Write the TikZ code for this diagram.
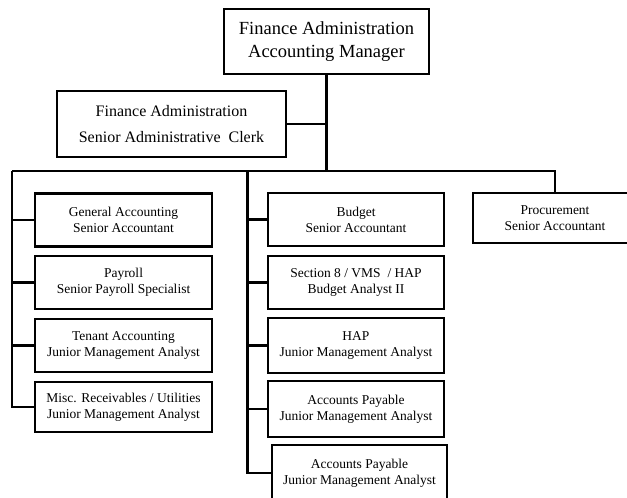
\documentclass[tikz,border=0pt]{standalone}
\usepackage{fontspec}
\setmainfont{Liberation Serif}
\usepackage{tikz}

\begin{document}
\begin{tikzpicture}[x=1pt,y=-1pt]
  \tikzset{post/.style = {shape=rectangle,draw,line width=2.2pt,align=center,inner sep=1pt,
      minimum width=176pt,minimum height=53pt,font=\fontsize{13.5}{16}\selectfont}}
  \tikzset{link/.style = {line width=2.2pt}}
  \useasboundingbox (0,0) rectangle (627,498);

	\node[post,minimum width=205pt,minimum height=65pt,font=\fontsize{18.5}{23}\selectfont]
	  (mgr) at (326.5,41.5) {Finance Administration\\Accounting Manager};
	\node[post,minimum width=229pt,minimum height=66pt,font=\fontsize{16}{26}\selectfont]
	  (clerk) at (171.5,124) {Finance Administration\\Senior Administrative\ \ Clerk};

	\node[post,minimum width=177pt](ga) at (123.5,220) {General Accounting\\Senior Accountant};
	\node[post,minimum width=177pt](pay) at (123.5,282.5) {Payroll\\Senior Payroll Specialist};
	\node[post,minimum width=177pt](ten) at (123.5,345.5) {Tenant Accounting\\Junior Management Analyst};
	\node[post,minimum width=177pt,minimum height=50pt](misc) at (123.5,407) {Misc. Receivables / Utilities\\Junior Management Analyst};

	\node[post](bud) at (356,219.5) {Budget\\Senior Accountant};
	\node[post](sec) at (356,282.5) {Section 8 / VMS\ \ / HAP\\Budget Analyst II};
	\node[post,minimum height=55pt](hap) at (356,345.5) {HAP\\Junior Management Analyst};
	\node[post,minimum height=56pt](ap1) at (356,409) {Accounts Payable\\Junior Management Analyst};
	\node[post,minimum width=175pt,minimum height=56pt](ap2) at (359.5,473) {Accounts Payable\\Junior Management Analyst};

	\node[post,minimum width=164pt,minimum height=50pt](proc) at (555,218) {Procurement\\Senior Accountant};

	\coordinate (hub) at (326.5,171);
	\coordinate (lbus) at (12,171);
	\coordinate (mbus) at (247.5,171);
	\coordinate (rbus) at (555,171);

    \draw[link] (mgr) -- (hub);
    \draw[link] (clerk) -- (clerk -| hub);
    \draw[link] (lbus) -- (rbus) -- (proc);
    \draw[link] (lbus) -- (lbus |- misc) -- (misc);
    \draw[link] (mbus) -- (mbus |- ap2) -- (ap2);
    \foreach \to in {ga,pay,ten}
    \draw[link] (lbus |- \to) -- (\to);
    \foreach \to in {bud,sec,hap,ap1}
    \draw[link] (mbus |- \to) -- (\to);
\end{tikzpicture}
\end{document}
